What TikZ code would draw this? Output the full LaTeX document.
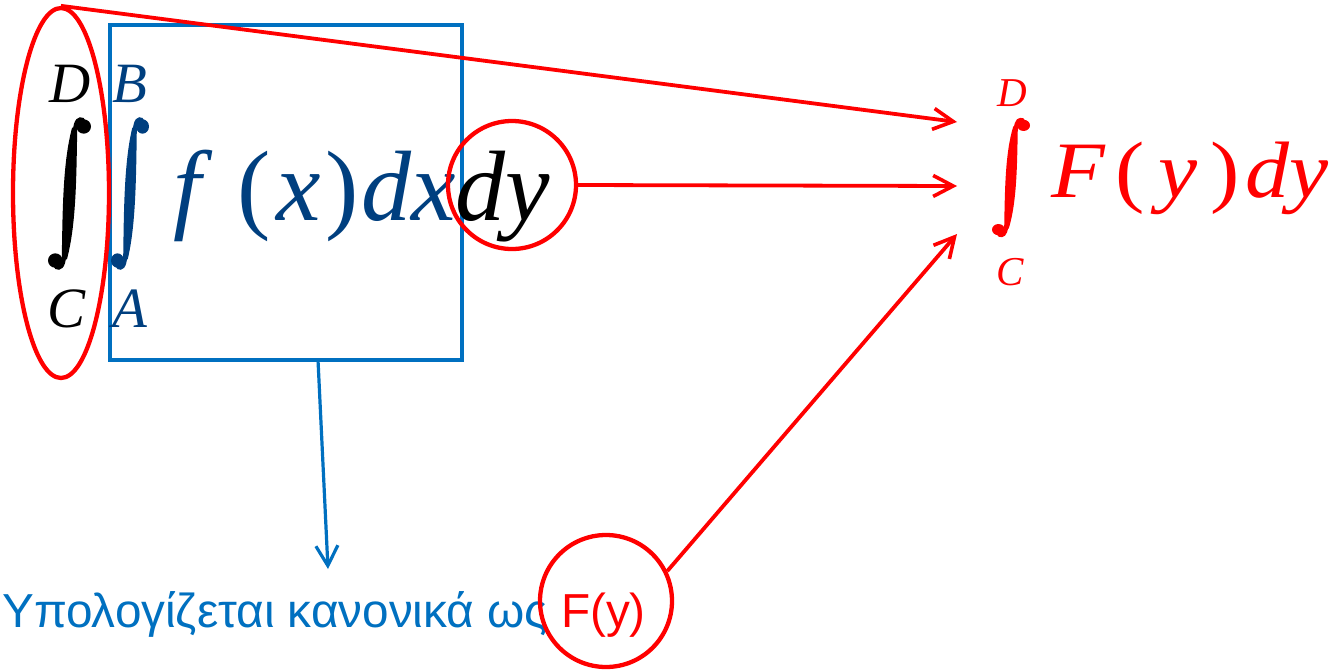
\documentclass[tikz,border=0pt]{standalone}
\usepackage{fontspec}
\setmainfont{Liberation Serif}
\newfontfamily\grkfont{Liberation Sans}
\usetikzlibrary{arrows.meta,shapes.geometric}
\definecolor{rd}{RGB}{255,0,0}
\definecolor{bx}{RGB}{0,112,192}
\definecolor{mb}{RGB}{0,63,127}
\newcommand{\wide}[1]{\scalebox{1.1}[1]{#1}}
\begin{document}
\begin{tikzpicture}[x=1pt,y=-1pt,
  glyph/.style={inner sep=0pt,anchor=base,font=\fontsize{100}{100}\selectfont\itshape},
  rglyph/.style={inner sep=0pt,anchor=base,text=rd,font=\fontsize{80}{80}\selectfont\itshape},
  limit/.style={inner sep=0pt,anchor=base,font=\fontsize{57}{57}\selectfont\itshape},
  rlimit/.style={inner sep=0pt,anchor=base,text=rd,font=\fontsize{41}{41}\selectfont\itshape},
  redline/.style={draw=rd,line width=3.8pt},
  redarrow/.style={redline,-{Straight Barb[length=20pt,width=21pt,line width=3.6pt]}},
  bluearrow/.style={draw=bx,line width=3.2pt,-{Straight Barb[length=20pt,width=22pt,line width=3.2pt]}},
  ring/.style={draw=rd,line width=4.3pt,inner sep=0pt},
  integ/.pic={
    \fill (0.56,0.07) .. controls (0.34,0.30) and (0.34,0.62) .. (0.32,0.93)
      -- (0.44,0.93) .. controls (0.66,0.70) and (0.66,0.38) .. (0.68,0.07) -- cycle;
    \draw[line width=3.6pt,line cap=round] (0.62,0.09) .. controls (0.64,0.02) and (0.72,0.005) .. (0.82,0.018);
    \draw[line width=3.6pt,line cap=round] (0.38,0.91) .. controls (0.36,0.98) and (0.28,0.995) .. (0.18,0.982);
    \fill (0.83,0.062) ellipse [x radius=0.17, y radius=0.047];
    \fill (0.17,0.938) ellipse [x radius=0.17, y radius=0.047];
  }
]
\useasboundingbox (0,0) rectangle (1336,670);
% blue box
\node[draw=bx,line width=4pt,inner sep=0pt,minimum width=352pt,minimum height=335pt] (box) at (286,192.5) {};
% black outer integral with limits
\pic[black,xscale=43,yscale=153] (int1) at (48,117) {integ};
\node[limit] (D1) at (70,102) {D};
\node[limit] (C1) at (67,327) {C};
% blue inner integral
\pic[mb,xscale=38,yscale=153] (int2) at (111,117) {integ};
\node[limit,text=mb] (B1) at (130,102) {B};
\node[limit,text=mb] (A1) at (130,327) {A};
% f(x)dx
\node[glyph,text=mb] (f1) at (187,220) {f};
\node[glyph,text=mb,font=\fontsize{100}{100}\selectfont] (lp1) at (254,220) {(};
\node[glyph,text=mb] (x1) at (299,220) {x};
\node[glyph,text=mb,font=\fontsize{100}{100}\selectfont] (rp1) at (342,220) {)};
\node[glyph,text=mb] (dx1) at (409,220) {dx};
\node[glyph] (dy1) at (503,220) {dy};
% red ellipse and circles
\node[ring,ellipse,minimum width=96pt,minimum height=370pt] (ell) at (61,193) {};
\node[ring,circle,minimum size=128pt] (cdy) at (512,185) {};
% right formula
\pic[rd,xscale=38,yscale=119] (int3) at (992,118) {integ};
\node[rlimit] (D2) at (1012,106) {D};
\node[rlimit] (C2) at (1010,285) {C};
\node[rglyph] (F2) at (1078,197) {\wide{F}};
\node[rglyph,font=\fontsize{80}{80}\selectfont] (lp2) at (1130,197) {\wide{(}};
\node[rglyph] (y2) at (1178,197) {\wide{y}};
\node[rglyph,font=\fontsize{80}{80}\selectfont] (rp2) at (1225,197) {\wide{)}};
\node[rglyph,anchor=base west] (dy2) at (1245,197) {\wide{dy}};
% bottom text
\node[inner sep=0pt,anchor=base west,text=bx,font=\grkfont\fontsize{47.7}{48}\selectfont] (txt) at (2,627) {Υπολογίζεται κανονικά ως \textcolor{rd}{F(y)}};
\node[ring,circle,minimum size=132pt] (cF) at (606,601) {};
% arrow end points
\coordinate (t1) at (957,122);
\coordinate (t2) at (957,186);
\coordinate (t3) at (957,234);
\coordinate (bs) at (318,360);
\coordinate (t4) at (328,569);
% connectors
\draw[redarrow] (ell.north) -- (t1);
\draw[redarrow] (cdy.east) -- (t2);
\draw[redarrow] (cF.26) -- (t3);
\draw[bluearrow] (bs) -- (t4);
\end{tikzpicture}
\end{document}
